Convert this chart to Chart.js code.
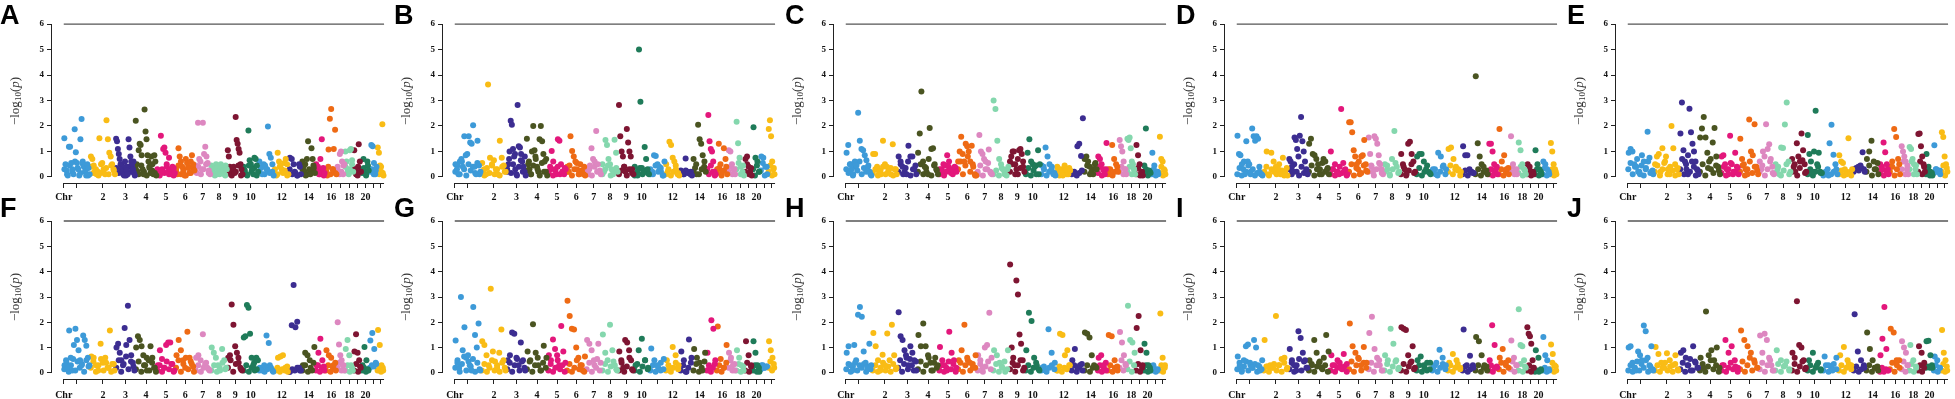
<!DOCTYPE html>
<html>
<head>
<meta charset="utf-8">
<script src="https://cdn.jsdelivr.net/npm/chart.js@4/dist/chart.umd.min.js"></script>
<style>
  body { margin: 0; background: #fff; width: 1955px; height: 399px; overflow: hidden; position: relative; }
  .panel { position: absolute; width: 391px; height: 200px; }
  .panel canvas { position: absolute; left: 0; top: 0; }
  .tag { position: absolute; font: bold 27px "Liberation Sans", Arial, sans-serif; line-height: 27px; color: #000; }
  .ytitle {
    position: absolute; left: 15px; white-space: nowrap;
    font: 13px "Liberation Serif", "Times New Roman", serif; color: #333;
    transform: translate(-50%, -50%) rotate(-90deg);
  }
  .ytitle sub { font-size: 9px; vertical-align: -2px; }
</style>
</head>
<body>
<script>
// chromosome layout (relative lengths) and colours, cycling every 10
const chrLengths = [27, 26, 20, 22, 19, 20, 16, 17, 16, 16, 16, 15, 13, 14, 10, 12, 8, 9, 8, 8, 8, 7];
const chrColors = ['#3d9ad8', '#f9bc15', '#3c2d91', '#4a5421', '#e3177b', '#ee6a14', '#dd87c0', '#84d7ad', '#7e1532', '#1f7b59'];
const chrTickLabels = ['Chr', '', '2', '3', '4', '5', '6', '7', '8', '9', '10', '', '12', '', '14', '', '16', '', '18', '', '20', '', ''];
const yTicks = [0, 1, 2, 3, 4, 5, 6];
const threshold = 6;
const panelLetters = ['A', 'B', 'C', 'D', 'E', 'F', 'G', 'H', 'I', 'J'];

// -log10(p) per chromosome, in order along each chromosome (upper markers)
const panelA = [
  [1.52, 0.5, 0.25, 0.05, 1.18, 1.18, 0.55, 0.3, 0.1, 1.87, 0.97, 0.55, 0.3, 0.05, 1.48, 2.27, 0.6, 0.4, 0.2, 0.05, 0.5, 0.35, 0.1],
  [0.8, 0.7, 0.45, 0.25, 0.1, 0.2, 1.52, 0.15, 0.55, 0.3, 0.1, 2.22, 1.48, 0.95, 0.8, 0.5, 0.3, 0.1],
  [1.5, 1.4, 1.1, 0.9, 0.7, 0.5, 0.3, 0.2, 0.1, 0.05, 0.6, 0.4, 0.25, 0.1, 1.48, 1.15, 0.8, 0.6, 0.45, 0.3, 0.15, 0.05],
  [2.2, 0.5, 0.2, 1.05, 1.3, 1.25, 0.85, 0.3, 0.1, 2.65, 1.78, 1.48, 0.85, 0.6, 0.35, 0.15, 0.8, 0.5, 0.1, 0.85, 0.6, 0.05],
  [0.3, 0.2, 0.1, 1.62, 0.25, 1.1, 1.15, 0.95, 0.5, 0.2, 0.75, 0.3, 0.1, 0.4, 0.35, 0.15],
  [0.3, 0.1, 1.12, 0.8, 0.6, 0.4, 0.2, 0.05, 0.7, 0.55, 0.35, 0.15, 0.6, 0.85, 0.5, 0.25],
  [0.45, 0.15, 2.13, 0.7, 0.6, 0.3, 2.13, 0.9, 1.18, 0.8, 0.55, 0.25, 0.1],
  [0.45, 0.3, 0.15, 0.05, 0.5, 0.35, 0.2, 0.1, 0.5, 0.4, 0.25, 0.1, 0.45, 0.3],
  [1.05, 0.8, 0.4, 0.2, 0.05, 0.3, 0.4, 0.15, 2.35, 1.45, 1.3, 1.1, 0.95, 0.5, 0.3, 0.1],
  [0.4, 0.25, 0.1, 0.05, 1.82, 0.65, 0.5, 0.3, 0.1, 0.75, 0.7, 0.45, 0.2],
  [0.6, 0.35, 0.1, 0.5, 0.45, 0.3, 1.98, 0.9, 0.75, 0.2, 0.05],
  [0.1, 0.05, 0.95, 0.6, 0.45, 0.3, 0.15, 0.55, 0.7, 0.5, 0.1],
  [0.75, 0.7, 0.5, 0.15, 0.05, 0.5, 0.1],
  [0.6, 0.4, 0.2, 0.05, 0.7, 1.4, 0.3, 0.1, 1.12, 0.7, 0.35, 0.15],
  [0.5, 0.3, 0.1, 0.7, 1.48, 0.35, 0.15],
  [0.25, 0.05, 1.08, 2.28, 2.67, 0.3, 1.1, 1.85, 0.1],
  [0.4, 0.2, 0.9, 1.0, 0.6, 0.1, 0.5],
  [1.0, 0.6, 0.3, 0.1, 1.05, 1.1, 0.65, 0.2],
  [1.05, 0.3, 0.1, 0.05, 1.28, 0.6, 0.2],
  [0.3, 0.7, 0.2, 0.05, 0.6, 0.25],
  [0.3, 1.25, 1.2, 0.55, 0.1, 0.4],
  [1.15, 0.95, 0.45, 0.2, 2.07, 0.05]
];
const panelB = [
  [0.5, 0.3, 0.1, 0.6, 0.7, 0.4, 1.6, 0.85, 0.9, 1.6, 1.35, 1.3, 2.03, 0.4, 0.1, 1.42, 0.45, 0.2],
  [0.55, 0.3, 0.1, 3.63, 0.75, 0.5, 0.65, 0.3, 0.1, 1.42, 0.75, 0.45, 0.2],
  [0.2, 0.5, 1.0, 2.2, 2.05, 1.1, 0.8, 0.3, 0.1, 2.82, 1.2, 1.15, 0.9, 0.6, 0.4, 0.2, 0.05],
  [1.5, 0.5, 0.3, 0.1, 1.0, 2.0, 1.05, 0.7, 0.4, 0.2, 1.48, 2.0, 1.4, 0.9, 0.6, 0.2, 0.05],
  [0.2, 0.4, 1.02, 0.6, 0.3, 0.1, 1.48, 1.42, 0.5, 0.2, 0.1, 0.3],
  [0.4, 0.2, 1.6, 1.02, 0.8, 0.6, 0.3, 0.1, 0.5, 0.2, 0.1, 0.05],
  [0.3, 0.1, 0.45, 1.12, 0.7, 0.6, 1.8, 0.5, 0.2, 0.1],
  [0.5, 0.2, 1.45, 1.25, 0.7, 0.5, 0.3, 0.1, 1.46, 0.95, 0.2],
  [2.82, 1.6, 1.0, 0.8, 0.4, 0.2, 1.88, 1.35, 1.0, 0.8, 0.3, 0.1],
  [0.4, 0.1, 0.05, 5.0, 2.95, 0.35, 0.2, 1.17, 0.7, 0.3, 0.1],
  [0.1, 0.2, 0.85, 0.82, 0.5, 0.4, 0.2, 0.05, 0.6],
  [0.5, 0.2, 1.38, 1.25, 0.75, 0.6, 0.3, 0.1, 0.05],
  [0.25, 0.2, 0.1, 0.72, 0.2, 0.15, 0.1, 0.05],
  [0.7, 0.35, 0.1, 2.05, 1.48, 1.3, 0.85, 0.4, 0.2],
  [0.3, 2.43, 1.4, 1.1, 1.0, 0.6, 0.2, 0.1],
  [0.3, 1.3, 0.5, 0.2, 1.12, 0.7, 0.1],
  [1.05, 1.0, 0.5, 0.3, 0.1],
  [2.17, 1.32, 0.75, 0.4, 0.2, 0.05],
  [0.7, 0.8, 0.4, 0.2, 0.05],
  [1.95, 0.75, 0.6, 0.2],
  [0.8, 0.75, 0.4, 0.1],
  [1.88, 2.22, 1.6, 0.6, 0.3, 0.1]
];
const panelC = [
  [0.95, 1.25, 0.5, 0.3, 0.1, 0.6, 0.45, 2.52, 1.42, 1.1, 1.05, 0.85, 0.65, 0.4, 0.2, 0.05],
  [0.9, 0.9, 0.4, 0.2, 0.1, 1.42, 0.5, 0.4, 0.3, 0.1, 1.28, 0.3, 0.1],
  [0.8, 0.6, 0.4, 0.2, 0.1, 1.22, 0.8, 0.8, 0.3, 0.1],
  [0.95, 1.7, 3.35, 0.6, 0.4, 0.2, 0.1, 1.92, 1.1, 1.12, 0.5, 0.3, 0.1],
  [0.3, 0.2, 0.5, 0.45, 0.85, 0.6, 0.3, 0.1, 0.4, 0.2],
  [0.6, 1.0, 1.58, 0.9, 0.6, 1.3, 1.2, 1.0, 0.6, 1.22, 0.4, 0.1, 0.05],
  [0.1, 1.65, 1.0, 0.9, 0.7, 0.6, 0.3, 1.08, 0.2, 0.1],
  [3.0, 2.67, 1.42, 0.7, 0.5, 0.3, 0.1, 0.05, 0.4],
  [0.6, 0.8, 1.0, 1.0, 0.5, 0.3, 0.1, 1.05, 1.1, 0.9, 0.4, 0.2],
  [0.1, 0.95, 1.48, 0.6, 0.5, 0.4, 0.1, 1.05, 0.5],
  [0.45, 0.4, 1.15, 0.8, 0.5, 0.3, 0.1, 0.05],
  [0.4, 0.3, 0.15, 0.05, 0.45, 0.3, 0.1, 0.25],
  [0.2, 0.15, 0.1, 1.2, 1.3, 0.82, 2.3],
  [0.7, 0.8, 0.6, 0.4, 0.2, 0.1, 0.5, 0.3],
  [0.8, 0.7, 0.5, 0.3, 0.1, 1.33],
  [0.3, 0.1, 1.25, 0.7, 0.5, 0.2],
  [1.45, 1.2, 1.0, 0.6, 0.3, 0.1],
  [1.5, 1.45, 1.55, 1.12, 0.6, 0.5, 0.3, 0.1],
  [1.25, 0.85, 0.5, 0.2, 0.05],
  [0.45, 1.9, 0.2, 0.25, 0.15],
  [0.95, 0.45, 0.2, 0.1],
  [1.58, 0.7, 0.6, 0.3, 0.1]
];
const panelD = [
  [1.62, 0.9, 0.85, 0.5, 0.3, 0.1, 1.4, 0.6, 0.5, 0.2, 1.9, 1.6, 1.42, 1.6, 1.5, 0.2, 0.1, 0.05],
  [0.2, 1.0, 0.1, 0.95, 0.6, 0.4, 0.3, 0.1, 0.75, 0.2, 0.05],
  [0.7, 0.6, 0.4, 0.2, 1.55, 1.45, 1.1, 0.8, 1.62, 2.35, 1.4, 1.0, 0.6, 0.3, 0.1],
  [1.3, 1.5, 0.9, 0.85, 0.7, 0.5, 0.3, 0.1, 0.7, 0.6, 0.3, 0.1],
  [1.0, 0.3, 0.5, 0.2, 0.1, 2.67, 0.55, 0.3, 0.1],
  [2.15, 2.15, 1.75, 1.05, 0.8, 0.5, 0.3, 0.1, 0.8, 0.85, 1.45, 0.5, 0.2],
  [1.55, 0.9, 0.4, 0.2, 1.6, 1.5, 1.3, 0.85, 0.5, 0.3, 0.1],
  [0.5, 0.3, 0.1, 0.7, 1.8, 0.4, 0.2],
  [0.9, 0.5, 0.3, 0.1, 1.3, 1.38, 0.9, 0.6, 0.2],
  [0.8, 0.9, 0.9, 0.6, 0.3, 0.2, 0.1],
  [0.3, 0.1, 0.95, 0.8, 0.45, 0.3],
  [1.1, 1.15, 0.7, 0.4, 0.3, 0.2],
  [1.2, 0.85, 0.85, 0.3, 0.2, 0.15],
  [3.95, 1.32, 0.8, 0.5, 0.4, 0.2, 0.1],
  [1.3, 1.3, 1.0, 0.5, 0.3, 0.1],
  [1.88, 0.6, 0.85, 0.3, 0.1],
  [1.6, 0.5, 0.2, 0.1],
  [1.35, 1.05, 0.5, 0.3, 0.1],
  [0.5, 0.4, 0.2, 0.1],
  [1.05, 0.5, 0.3, 0.1],
  [0.6, 0.5, 0.3, 0.1],
  [1.33, 1.0, 0.5, 0.3, 0.1]
];
const panelE = [
  [0.95, 1.1, 1.0, 0.5, 0.4, 0.2, 0.1, 0.85, 0.6, 0.3, 1.77, 0.75, 0.2, 0.1],
  [0.5, 0.8, 0.9, 0.2, 1.12, 0.55, 0.8, 0.3, 0.1, 2.0, 1.12, 0.5, 0.3, 0.1],
  [1.7, 2.92, 1.05, 0.6, 0.3, 0.1, 2.68, 1.75, 1.3, 1.0, 0.6, 0.3, 0.1],
  [1.55, 1.9, 2.35, 1.55, 0.95, 0.6, 0.3, 1.35, 1.92, 0.8, 0.4, 0.1],
  [0.8, 0.85, 0.5, 0.3, 0.1, 1.62, 0.5, 0.2, 0.95, 0.4, 0.1],
  [1.5, 0.7, 0.5, 0.3, 0.1, 2.25, 1.0, 0.85, 2.07, 0.4, 0.1],
  [0.6, 0.3, 1.0, 0.8, 2.07, 1.1, 1.28, 0.7, 0.4, 0.1],
  [0.5, 0.3, 0.1, 1.15, 1.13, 2.06, 2.92, 0.6, 0.2],
  [0.7, 0.4, 0.2, 1.32, 0.8, 0.6, 1.7, 1.05, 0.5, 0.2],
  [1.65, 0.9, 0.6, 0.2, 1.0, 2.6, 0.5, 0.95, 0.2, 0.15],
  [0.1, 0.2, 0.3, 1.32, 2.05, 0.87, 0.5, 0.1],
  [0.85, 0.6, 0.55, 0.3, 0.1, 1.52, 0.2, 0.3],
  [0.3, 0.35, 0.4, 0.45, 0.97, 0.2],
  [0.7, 1.0, 1.42, 0.6, 0.3, 0.1],
  [0.5, 0.3, 1.35, 0.97, 0.5, 0.1],
  [0.4, 0.6, 1.88, 1.57, 0.7, 0.1],
  [1.2, 1.0, 0.8, 0.6, 0.3, 0.1],
  [1.17, 1.1, 0.7, 0.5, 0.3, 0.1],
  [1.68, 1.7, 1.2, 0.8, 0.5, 0.2],
  [0.9, 0.4, 0.2, 0.05],
  [1.24, 0.3, 0.2, 0.1],
  [1.75, 1.57, 0.8, 0.5, 0.2]
];
const panelF = [
  [0.3, 0.5, 0.2, 1.68, 0.6, 0.1, 1.1, 1.75, 1.3, 0.9, 0.5, 0.3, 1.48, 1.3, 1.07, 0.6, 0.3],
  [0.65, 0.6, 0.3, 0.1, 1.15, 0.4, 0.6, 0.2, 1.68, 0.35, 0.1],
  [1.0, 1.15, 0.8, 0.5, 0.3, 1.78, 1.1, 2.65, 1.3, 0.7, 0.4, 0.1],
  [1.0, 1.45, 1.3, 1.05, 0.7, 0.3, 0.1, 0.5, 1.05, 0.6, 0.2, 0.05],
  [0.3, 0.9, 0.55, 0.2, 1.1, 1.2, 1.2, 0.35, 0.1],
  [0.7, 1.3, 0.9, 0.5, 0.2, 1.63, 0.6, 0.35, 0.05],
  [0.6, 0.7, 0.5, 1.53, 0.35, 0.2, 0.1],
  [1.0, 0.8, 0.6, 0.3, 0.1, 0.95, 0.5, 0.2],
  [0.6, 0.7, 2.7, 1.9, 1.05, 0.8, 0.4, 0.2, 0.1],
  [1.4, 1.45, 2.68, 2.58, 1.55, 0.6, 0.3, 0.1, 0.6, 0.5],
  [0.2, 0.1, 0.3, 1.48, 1.18, 0.2, 0.05],
  [0.1, 0.6, 0.65, 0.7, 0.2, 0.05],
  [0.05, 1.88, 3.47, 1.8, 2.02, 0.2, 0.1],
  [0.3, 0.8, 0.7, 0.5, 0.1, 1.02],
  [0.3, 0.8, 1.35, 0.5, 0.1],
  [0.9, 0.7, 0.6, 0.3, 0.1],
  [2.0, 1.12, 0.7, 0.5, 0.3, 0.1],
  [0.95, 1.3, 0.7, 0.3, 0.1],
  [0.85, 1.53, 0.8, 0.5, 0.2],
  [0.3, 1.02, 0.5, 0.1],
  [1.28, 1.58, 0.95, 0.35],
  [1.7, 1.1, 0.3, 0.1]
];
const panelG = [
  [1.28, 0.4, 0.2, 3.0, 0.9, 1.8, 0.6, 0.7, 0.3, 0.1, 2.6, 1.5, 1.0, 1.95, 0.1],
  [1.25, 1.1, 0.7, 0.3, 3.33, 0.85, 0.45, 0.2, 0.8, 1.72, 0.5, 0.1],
  [0.5, 0.7, 1.6, 1.55, 0.6, 0.3, 1.2, 0.5, 0.1],
  [0.85, 0.5, 1.92, 0.8, 0.3, 0.1, 1.07, 0.6],
  [0.7, 0.5, 1.32, 0.95, 0.7, 0.3, 1.85, 0.85, 0.4],
  [2.85, 2.25, 1.75, 1.72, 1.0, 0.6, 0.3, 0.1, 0.65],
  [1.3, 1.15, 0.9, 0.5, 0.2, 1.15, 0.4],
  [1.52, 0.8, 0.5, 1.9, 0.9, 0.3, 0.1],
  [0.85, 0.5, 0.2, 1.3, 1.2, 0.9, 0.5, 0.1],
  [0.3, 0.9, 1.35, 0.5, 0.2],
  [0.97, 0.5, 0.3, 0.1, 0.55],
  [0.5, 0.2, 1.02, 0.7, 0.3],
  [0.85, 0.5, 0.05, 1.32, 0.6],
  [0.95, 0.6, 0.4, 0.1, 0.8],
  [0.8, 0.2, 2.08, 1.75, 0.5],
  [1.83, 0.55, 0.2, 1.1],
  [0.8, 0.6, 0.3, 0.1],
  [0.9, 0.6, 0.3, 0.1],
  [1.25, 0.7, 0.3],
  [1.25, 0.8, 0.3, 0.05],
  [0.3, 0.2, 0.25],
  [1.25, 0.9, 0.6, 0.2]
];
const panelH = [
  [0.8, 1.05, 0.3, 0.1, 1.1, 0.5, 2.3, 2.6, 2.22, 0.85, 0.4, 0.2, 1.15, 0.3],
  [1.58, 1.05, 0.5, 0.1, 0.72, 0.3, 1.56, 0.5, 1.9, 0.7, 0.2],
  [2.4, 1.45, 1.3, 0.9, 0.6, 0.3, 1.05, 0.8, 0.5, 0.1],
  [1.5, 1.05, 1.95, 1.05, 0.7, 0.4, 0.1, 0.6, 0.3],
  [1.02, 0.5, 0.3, 0.1, 1.63, 0.8, 0.5, 0.2],
  [0.5, 0.9, 1.9, 0.6, 0.4, 0.2, 0.7],
  [0.7, 0.5, 0.2, 1.0, 1.1, 2.38, 0.6],
  [0.9, 0.7, 0.4, 0.2, 0.05, 0.9],
  [4.28, 1.0, 0.6, 0.3, 3.65, 3.1, 1.52, 1.15, 0.5, 0.2],
  [0.9, 2.38, 2.05, 0.6, 0.3, 0.1],
  [0.2, 0.1, 1.73, 0.8, 0.4],
  [0.1, 1.55, 1.5, 0.7, 0.9, 0.3],
  [0.5, 0.95, 0.2, 0.3, 0.1],
  [1.6, 1.55, 1.4, 0.7, 0.3, 0.2],
  [0.6, 0.7, 0.3, 0.1],
  [1.5, 1.45, 0.5, 0.1],
  [1.62, 1.2, 0.7, 0.3],
  [2.65, 1.3, 1.2, 0.8],
  [1.78, 2.25, 0.9, 0.3],
  [1.15, 0.8, 0.3, 0.1],
  [0.3, 0.1],
  [2.35, 0.6, 0.3]
];
const panelI = [
  [0.65, 0.3, 0.1, 0.5, 1.05, 1.12, 0.4, 0.2, 1.3, 1.0, 0.3, 0.1, 0.5],
  [1.3, 0.25, 0.3, 0.2, 2.25, 0.3, 0.55, 0.6, 0.2],
  [0.95, 0.5, 0.3, 0.1, 1.65, 1.38, 0.8, 0.5, 0.2],
  [0.5, 0.3, 1.3, 0.8, 0.4, 0.2, 0.6, 1.5, 0.85],
  [0.7, 0.3, 0.5, 0.2, 0.75, 0.35],
  [1.95, 1.05, 0.8, 0.6, 0.3, 1.02, 0.4],
  [1.58, 2.22, 0.95, 0.6, 0.3, 0.1],
  [0.7, 0.5, 1.75, 1.15, 0.5, 0.2],
  [1.8, 1.75, 1.7, 0.7, 0.4, 1.05, 0.2],
  [0.5, 0.65, 0.3, 0.1, 0.4],
  [0.2, 0.4, 0.92, 0.6, 0.3],
  [0.4, 0.75, 0.5, 0.2],
  [1.72, 0.3, 0.68, 0.2],
  [1.42, 1.25, 0.7, 0.3, 0.1],
  [0.5, 1.88, 1.1, 0.2],
  [0.6, 0.95, 0.4, 0.2],
  [1.28, 0.6, 0.3],
  [2.52, 1.1, 1.05, 0.5, 0.2],
  [1.8, 1.55, 1.45, 1.15, 0.5, 0.2],
  [0.9, 0.6, 0.1],
  [1.42, 0.7, 0.5, 0.1],
  [1.12, 0.75, 0.3, 0.1]
];
const panelJ = [
  [1.0, 1.05, 0.4, 0.2, 0.1, 0.85, 0.7, 0.5, 1.87, 1.65, 0.6, 0.3, 1.05, 0.1],
  [1.02, 0.75, 0.4, 0.2, 0.78, 0.5, 0.3, 0.7, 0.1],
  [0.8, 0.9, 0.6, 0.3, 0.1, 1.05, 0.4, 0.2],
  [0.6, 0.2, 2.43, 0.7, 0.9, 0.5, 1.0, 0.2],
  [0.3, 1.3, 0.8, 1.05, 0.5, 0.2],
  [1.68, 1.3, 1.05, 0.8, 0.5, 0.2],
  [1.48, 0.8, 1.55, 1.3, 0.6, 0.3, 0.1],
  [0.9, 0.5, 0.3, 0.1],
  [0.8, 0.6, 2.83, 1.1, 1.0, 0.5, 0.2],
  [0.5, 0.8, 0.3, 0.1],
  [0.65, 0.3, 0.1, 0.6],
  [0.7, 1.02, 0.5, 0.3],
  [2.32, 0.85, 0.5, 0.2],
  [1.6, 0.95, 0.5, 0.2, 0.1],
  [0.7, 1.35, 2.6, 0.95, 0.1],
  [1.75, 1.6, 0.5, 0.2],
  [1.25, 1.0, 0.8, 0.3],
  [1.1, 0.5, 0.2],
  [1.05, 0.8, 0.4],
  [1.25, 1.27, 0.7, 0.2],
  [0.65, 0.5, 0.2],
  [1.7, 0.8, 0.5, 0.1]
];

// dense low-level band of markers per chromosome (-log10 p near zero)
const baseA = [
  [0.3, 0.1, 0.45, 0.2, 0.6, 0.35, 0.15, 0.5, 0.25, 0.05],
  [0.4, 0.15, 0.3, 0.05, 0.5, 0.2, 0.35, 0.1, 0.45, 0.25],
  [0.35, 0.15, 0.5, 0.25, 0.05, 0.4, 0.2, 0.6],
  [0.3, 0.1, 0.45, 0.2, 0.05, 0.4, 0.25, 0.15],
  [0.2, 0.05, 0.3, 0.15, 0.4, 0.1, 0.25, 0.05],
  [0.2, 0.45, 0.1, 0.3, 0.05, 0.4, 0.15, 0.35],
  [0.2, 0.4, 0.1, 0.3, 0.5, 0.15],
  [0.2, 0.35, 0.1, 0.45, 0.25, 0.05],
  [0.25, 0.1, 0.35, 0.2, 0.45, 0.05],
  [0.3, 0.1, 0.45, 0.2, 0.35, 0.05],
  [0.2, 0.4, 0.1, 0.3, 0.15, 0.5],
  [0.3, 0.1, 0.4, 0.2, 0.25, 0.05],
  [0.3, 0.1, 0.2, 0.05, 0.4],
  [0.3, 0.5, 0.1, 0.25, 0.45],
  [0.2, 0.4, 0.1, 0.3, 0.05],
  [0.2, 0.4, 0.1, 0.3, 0.15],
  [0.3, 0.1, 0.2, 0.45],
  [0.4, 0.15, 0.3, 0.5],
  [0.3, 0.1, 0.4, 0.2],
  [0.15, 0.35, 0.1, 0.45],
  [0.2, 0.3, 0.1, 0.25],
  [0.3, 0.1, 0.4, 0.15]
];
const baseB = [
  [0.2, 0.45, 0.1, 0.6, 0.3, 0.05, 0.5, 0.25, 0.4, 0.15, 0.55, 0.1],
  [0.2, 0.05, 0.35, 0.15, 0.45, 0.1, 0.3, 0.05, 0.4, 0.2],
  [0.3, 0.7, 0.15, 0.5, 0.9, 0.05, 0.4, 0.65, 0.2, 0.8],
  [0.25, 0.6, 0.1, 0.45, 0.8, 0.3, 0.05, 0.55, 0.2, 0.7],
  [0.15, 0.3, 0.05, 0.25, 0.4, 0.1, 0.2, 0.35],
  [0.2, 0.45, 0.05, 0.3, 0.55, 0.1, 0.25, 0.4],
  [0.15, 0.3, 0.05, 0.4, 0.2, 0.25],
  [0.1, 0.3, 0.45, 0.05, 0.2, 0.35],
  [0.1, 0.25, 0.4, 0.05, 0.3, 0.15],
  [0.05, 0.2, 0.35, 0.1, 0.25, 0.15],
  [0.3, 0.1, 0.45, 0.2, 0.35, 0.05],
  [0.1, 0.3, 0.05, 0.2, 0.45, 0.15],
  [0.2, 0.1, 0.25, 0.15, 0.2],
  [0.2, 0.5, 0.1, 0.3, 0.6],
  [0.3, 0.1, 0.45, 0.2, 0.05],
  [0.15, 0.35, 0.05, 0.25, 0.4],
  [0.2, 0.4, 0.1, 0.3],
  [0.3, 0.55, 0.1, 0.45],
  [0.2, 0.5, 0.1, 0.35],
  [0.3, 0.05, 0.45, 0.2],
  [0.25, 0.55, 0.05, 0.4],
  [0.2, 0.45, 0.05, 0.35]
];
const baseC = [
  [0.3, 0.15, 0.5, 0.05, 0.4, 0.25, 0.6, 0.1, 0.35, 0.2, 0.45, 0.1],
  [0.15, 0.3, 0.05, 0.25, 0.4, 0.1, 0.2, 0.35, 0.05, 0.3],
  [0.2, 0.5, 0.1, 0.35, 0.6, 0.05, 0.3, 0.45],
  [0.2, 0.5, 0.1, 0.35, 0.7, 0.05, 0.45, 0.25],
  [0.1, 0.3, 0.05, 0.2, 0.4, 0.15, 0.25, 0.35],
  [0.3, 0.6, 0.1, 0.45, 0.8, 0.2, 0.5, 0.05],
  [0.2, 0.45, 0.05, 0.3, 0.55, 0.15],
  [0.1, 0.25, 0.05, 0.35, 0.15, 0.3],
  [0.2, 0.5, 0.1, 0.7, 0.35, 0.6],
  [0.15, 0.35, 0.05, 0.25, 0.45, 0.1],
  [0.1, 0.3, 0.05, 0.2, 0.4, 0.15],
  [0.2, 0.05, 0.3, 0.15, 0.1, 0.35],
  [0.1, 0.2, 0.05, 0.15, 0.25],
  [0.2, 0.45, 0.1, 0.3, 0.55],
  [0.15, 0.4, 0.05, 0.25, 0.3],
  [0.1, 0.3, 0.05, 0.2, 0.4],
  [0.2, 0.4, 0.1, 0.3],
  [0.2, 0.4, 0.1, 0.3],
  [0.1, 0.35, 0.05, 0.2],
  [0.1, 0.3, 0.05, 0.2],
  [0.1, 0.3, 0.05, 0.2],
  [0.15, 0.4, 0.05, 0.25]
];
const baseD = [
  [0.1, 0.35, 0.05, 0.6, 0.2, 0.45, 0.1, 0.3, 0.05, 0.15, 0.4, 0.1],
  [0.15, 0.4, 0.05, 0.3, 0.2, 0.1, 0.5, 0.25, 0.05, 0.35],
  [0.3, 0.1, 0.5, 0.2, 0.05, 0.4, 0.15, 0.25],
  [0.2, 0.45, 0.05, 0.3, 0.1, 0.55, 0.2, 0.35],
  [0.1, 0.3, 0.05, 0.2, 0.4, 0.15, 0.25, 0.05],
  [0.2, 0.5, 0.05, 0.35, 0.6, 0.15, 0.45, 0.25],
  [0.2, 0.45, 0.05, 0.3, 0.55, 0.15],
  [0.2, 0.45, 0.05, 0.3, 0.55, 0.15],
  [0.1, 0.4, 0.05, 0.25, 0.5, 0.15],
  [0.1, 0.35, 0.05, 0.2, 0.45, 0.15],
  [0.15, 0.3, 0.05, 0.2, 0.4, 0.1],
  [0.2, 0.45, 0.1, 0.3, 0.25, 0.05],
  [0.1, 0.25, 0.05, 0.2, 0.15],
  [0.1, 0.3, 0.05, 0.2, 0.25],
  [0.1, 0.3, 0.05, 0.2, 0.4],
  [0.1, 0.3, 0.05, 0.2, 0.35],
  [0.2, 0.4, 0.1, 0.3],
  [0.15, 0.4, 0.05, 0.25],
  [0.1, 0.3, 0.05, 0.2],
  [0.1, 0.3, 0.05, 0.2],
  [0.1, 0.35, 0.05, 0.2],
  [0.1, 0.3, 0.05, 0.2]
];
const baseE = [
  [0.3, 0.55, 0.1, 0.4, 0.7, 0.2, 0.45, 0.05, 0.35, 0.6, 0.15, 0.25],
  [0.2, 0.45, 0.05, 0.3, 0.6, 0.1, 0.4, 0.25, 0.05, 0.35],
  [0.3, 0.7, 0.1, 0.5, 0.85, 0.2, 0.6, 0.4, 0.05, 0.25],
  [0.2, 0.5, 0.05, 0.35, 0.7, 0.15, 0.45, 0.25],
  [0.15, 0.4, 0.05, 0.3, 0.55, 0.1, 0.2, 0.35],
  [0.2, 0.45, 0.05, 0.3, 0.6, 0.15, 0.4, 0.25],
  [0.2, 0.45, 0.05, 0.3, 0.6, 0.15],
  [0.15, 0.4, 0.05, 0.25, 0.5, 0.1],
  [0.2, 0.5, 0.05, 0.35, 0.65, 0.15],
  [0.1, 0.3, 0.05, 0.2, 0.4, 0.15],
  [0.05, 0.15, 0.05, 0.1, 0.2, 0.3],
  [0.1, 0.25, 0.05, 0.2, 0.15, 0.05],
  [0.2, 0.3, 0.25, 0.35, 0.3],
  [0.2, 0.45, 0.05, 0.3, 0.55],
  [0.15, 0.4, 0.05, 0.25, 0.3],
  [0.2, 0.4, 0.05, 0.3, 0.5],
  [0.3, 0.6, 0.1, 0.45],
  [0.3, 0.6, 0.1, 0.45],
  [0.2, 0.6, 0.1, 0.4],
  [0.1, 0.25, 0.05, 0.15],
  [0.15, 0.3, 0.2, 0.25],
  [0.2, 0.45, 0.05, 0.35]
];
const baseF = [
  [0.15, 0.4, 0.05, 0.3, 0.55, 0.1, 0.45, 0.2, 0.35, 0.05, 0.5, 0.25],
  [0.2, 0.45, 0.05, 0.3, 0.55, 0.1, 0.4, 0.2, 0.05, 0.35],
  [0.2, 0.5, 0.05, 0.35, 0.65, 0.15, 0.45, 0.25],
  [0.15, 0.45, 0.05, 0.3, 0.6, 0.1, 0.4, 0.2],
  [0.1, 0.3, 0.05, 0.2, 0.45, 0.15, 0.35, 0.05],
  [0.2, 0.5, 0.05, 0.35, 0.6, 0.15, 0.45, 0.25],
  [0.1, 0.3, 0.05, 0.2, 0.4, 0.15],
  [0.1, 0.3, 0.05, 0.2, 0.4, 0.15],
  [0.2, 0.5, 0.05, 0.35, 0.6, 0.15],
  [0.1, 0.3, 0.05, 0.2, 0.4, 0.15],
  [0.1, 0.2, 0.05, 0.15, 0.3, 0.1],
  [0.1, 0.2, 0.05, 0.15, 0.1, 0.25],
  [0.05, 0.15, 0.1, 0.2, 0.1],
  [0.1, 0.3, 0.05, 0.2, 0.4],
  [0.1, 0.3, 0.05, 0.2, 0.25],
  [0.1, 0.3, 0.05, 0.2, 0.4],
  [0.2, 0.4, 0.1, 0.3],
  [0.1, 0.3, 0.05, 0.2],
  [0.1, 0.35, 0.05, 0.25],
  [0.1, 0.2, 0.05, 0.15],
  [0.2, 0.3, 0.25, 0.4],
  [0.1, 0.25, 0.05, 0.2]
];
const baseG = [
  [0.2, 0.5, 0.05, 0.35, 0.65, 0.1, 0.45, 0.25, 0.55, 0.05, 0.4, 0.15],
  [0.1, 0.35, 0.05, 0.2, 0.5, 0.1, 0.3, 0.05, 0.4, 0.2],
  [0.15, 0.4, 0.05, 0.3, 0.55, 0.1, 0.45, 0.2],
  [0.15, 0.45, 0.05, 0.3, 0.6, 0.1, 0.4, 0.2],
  [0.1, 0.35, 0.05, 0.2, 0.5, 0.15, 0.3, 0.05],
  [0.1, 0.35, 0.05, 0.2, 0.5, 0.15, 0.3, 0.05],
  [0.15, 0.4, 0.05, 0.3, 0.55, 0.1],
  [0.1, 0.35, 0.05, 0.25, 0.45, 0.15],
  [0.1, 0.4, 0.05, 0.25, 0.6, 0.15],
  [0.1, 0.35, 0.05, 0.25, 0.5, 0.15],
  [0.1, 0.3, 0.05, 0.2, 0.4, 0.15],
  [0.1, 0.3, 0.05, 0.2, 0.4, 0.15],
  [0.1, 0.3, 0.05, 0.2, 0.4],
  [0.1, 0.35, 0.05, 0.2, 0.45],
  [0.1, 0.3, 0.05, 0.2, 0.35],
  [0.1, 0.3, 0.05, 0.2, 0.4],
  [0.2, 0.5, 0.1, 0.35],
  [0.1, 0.35, 0.05, 0.25],
  [0.1, 0.4, 0.05, 0.25],
  [0.1, 0.3, 0.05, 0.2],
  [0.15, 0.3, 0.2, 0.25],
  [0.2, 0.45, 0.1, 0.35]
];
const baseH = [
  [0.15, 0.35, 0.05, 0.25, 0.4, 0.1, 0.3, 0.2, 0.35, 0.05, 0.25, 0.15],
  [0.1, 0.3, 0.05, 0.2, 0.4, 0.1, 0.25, 0.05, 0.35, 0.15],
  [0.2, 0.5, 0.05, 0.35, 0.7, 0.15, 0.55, 0.3, 0.1, 0.45],
  [0.15, 0.45, 0.05, 0.3, 0.6, 0.1, 0.4, 0.2],
  [0.1, 0.3, 0.05, 0.2, 0.45, 0.15, 0.35, 0.05],
  [0.15, 0.4, 0.05, 0.3, 0.5, 0.1, 0.35, 0.2],
  [0.1, 0.35, 0.05, 0.25, 0.45, 0.15],
  [0.1, 0.35, 0.05, 0.25, 0.45, 0.15],
  [0.15, 0.4, 0.05, 0.3, 0.5, 0.1],
  [0.1, 0.3, 0.05, 0.2, 0.4, 0.15],
  [0.1, 0.25, 0.05, 0.2, 0.3, 0.15],
  [0.1, 0.25, 0.05, 0.2, 0.15, 0.3],
  [0.1, 0.3, 0.05, 0.2, 0.35],
  [0.1, 0.3, 0.05, 0.2, 0.25],
  [0.1, 0.3, 0.05, 0.2, 0.4],
  [0.1, 0.3, 0.05, 0.2, 0.25],
  [0.2, 0.5, 0.1, 0.35],
  [0.15, 0.45, 0.05, 0.3],
  [0.1, 0.35, 0.05, 0.2],
  [0.1, 0.3, 0.05, 0.2],
  [0.1, 0.2, 0.05, 0.15],
  [0.1, 0.3, 0.05, 0.2]
];
const baseI = [
  [0.15, 0.4, 0.05, 0.25, 0.45, 0.1, 0.3, 0.2, 0.35, 0.05, 0.25, 0.15],
  [0.1, 0.25, 0.05, 0.2, 0.35, 0.1, 0.3, 0.05, 0.4, 0.15],
  [0.15, 0.4, 0.05, 0.3, 0.55, 0.1, 0.45, 0.2],
  [0.1, 0.35, 0.05, 0.25, 0.45, 0.15, 0.3, 0.05],
  [0.1, 0.3, 0.05, 0.2, 0.4, 0.15, 0.25, 0.05],
  [0.15, 0.45, 0.05, 0.3, 0.55, 0.1, 0.4, 0.2],
  [0.15, 0.4, 0.05, 0.3, 0.5, 0.1],
  [0.1, 0.35, 0.05, 0.25, 0.45, 0.15],
  [0.1, 0.35, 0.05, 0.25, 0.45, 0.15],
  [0.1, 0.3, 0.05, 0.2, 0.4, 0.15],
  [0.1, 0.3, 0.05, 0.2, 0.35, 0.15],
  [0.1, 0.3, 0.05, 0.2, 0.35, 0.15],
  [0.1, 0.25, 0.05, 0.15, 0.3],
  [0.1, 0.3, 0.05, 0.2, 0.25],
  [0.1, 0.3, 0.05, 0.2, 0.25],
  [0.15, 0.4, 0.05, 0.3, 0.5],
  [0.15, 0.45, 0.05, 0.3],
  [0.1, 0.35, 0.05, 0.25],
  [0.1, 0.3, 0.05, 0.2],
  [0.05, 0.1, 0.05, 0.15],
  [0.1, 0.2, 0.05, 0.15],
  [0.15, 0.4, 0.05, 0.25]
];
const baseJ = [
  [0.1, 0.3, 0.05, 0.2, 0.45, 0.1, 0.35, 0.2, 0.5, 0.05, 0.25, 0.15],
  [0.1, 0.3, 0.05, 0.2, 0.4, 0.1, 0.25, 0.05, 0.35, 0.15],
  [0.15, 0.4, 0.05, 0.3, 0.55, 0.1, 0.45, 0.2],
  [0.1, 0.35, 0.05, 0.25, 0.5, 0.15, 0.3, 0.05],
  [0.1, 0.3, 0.05, 0.2, 0.4, 0.15, 0.25, 0.05],
  [0.15, 0.45, 0.05, 0.3, 0.6, 0.1, 0.4, 0.2],
  [0.15, 0.4, 0.05, 0.3, 0.5, 0.1],
  [0.1, 0.35, 0.05, 0.25, 0.45, 0.15],
  [0.1, 0.35, 0.05, 0.25, 0.45, 0.15],
  [0.1, 0.3, 0.05, 0.2, 0.4, 0.15],
  [0.1, 0.3, 0.05, 0.2, 0.35, 0.15],
  [0.1, 0.3, 0.05, 0.2, 0.35, 0.15],
  [0.1, 0.25, 0.05, 0.15, 0.3],
  [0.1, 0.3, 0.05, 0.2, 0.25],
  [0.05, 0.2, 0.05, 0.15, 0.1],
  [0.15, 0.4, 0.05, 0.3, 0.5],
  [0.15, 0.45, 0.05, 0.3],
  [0.1, 0.35, 0.05, 0.25],
  [0.1, 0.3, 0.05, 0.2],
  [0.2, 0.25, 0.2, 0.3],
  [0.1, 0.3, 0.05, 0.2],
  [0.1, 0.35, 0.05, 0.25]
];

const allPanels = [panelA, panelB, panelC, panelD, panelE, panelF, panelG, panelH, panelI, panelJ];
const allBases = [baseA, baseB, baseC, baseD, baseE, baseF, baseG, baseH, baseI, baseJ];

// chromosome starts and tick positions (first tick = axis start labelled "Chr")
const chrStarts = [];
chrLengths.reduce((acc, len) => { chrStarts.push(acc); return acc + len; }, 0);
const genomeEnd = chrLengths.reduce((a, b) => a + b, 0);
const chrTicks = [0, ...chrLengths.map((len, i) => chrStarts[i] + len / 2)];

// spread a chromosome's markers along its span
const placeOnChr = (vals, i, shift) =>
  vals.map((v, j) => ({ x: chrStarts[i] + (j + shift) * chrLengths[i] / vals.length, y: v }));

const axisLines = {
  id: 'axisLines',
  afterDraw(chart) {
    const { ctx, chartArea, scales: { x, y } } = chart;
    ctx.save();
    ctx.strokeStyle = '#222';
    ctx.lineWidth = 1;
    ctx.beginPath();
    const lx = Math.round(chartArea.left) - 0.5;
    ctx.moveTo(lx, y.getPixelForValue(0));
    ctx.lineTo(lx, y.getPixelForValue(yTicks[yTicks.length - 1]));
    const by = Math.round(chartArea.bottom) + 0.5;
    ctx.moveTo(x.getPixelForValue(0), by);
    ctx.lineTo(x.getPixelForValue(genomeEnd), by);
    ctx.stroke();
    ctx.restore();
  }
};

const buildPanel = (idx) => {
  const row = Math.floor(idx / 5);
  const col = idx % 5;
  const panelTop = row === 0 ? 0 : 199;
  const div = document.createElement('div');
  div.className = 'panel';
  div.style.left = (col * 391) + 'px';
  div.style.top = panelTop + 'px';
  const canvas = document.createElement('canvas');
  canvas.width = 391;
  canvas.height = 200;
  div.appendChild(canvas);
  const yt = document.createElement('div');
  yt.className = 'ytitle';
  yt.innerHTML = '\u2212log<sub>10</sub>(<i>p</i>)';
  yt.style.top = (row === 0 ? 101 : 98) + 'px';
  div.appendChild(yt);
  document.body.appendChild(div);

  const tag = document.createElement('div');
  tag.className = 'tag';
  tag.textContent = panelLetters[idx];
  tag.style.left = (col * 391 + (col === 0 ? 0 : 3)) + 'px';
  tag.style.top = (row === 0 ? 2 : 195) + 'px';
  document.body.appendChild(tag);

  const datasets = allPanels[idx].map((vals, i) => ({
    type: 'scatter',
    data: [...placeOnChr(allBases[idx][i], i, 0.25), ...placeOnChr(vals, i, 0.5)],
    backgroundColor: chrColors[i % chrColors.length],
    borderWidth: 0,
    pointRadius: 3
  }));
  datasets.unshift({
    type: 'line',
    data: [{ x: 0, y: threshold }, { x: genomeEnd, y: threshold }],
    borderColor: '#555',
    borderWidth: 1.4,
    pointRadius: 0
  });

  const serifBold = { family: '"Liberation Serif", "Times New Roman", serif', weight: 'bold' };
  new Chart(canvas.getContext('2d'), {
    data: { datasets },
    plugins: [axisLines],
    options: {
      responsive: false,
      animation: false,
      devicePixelRatio: 1,
      layout: { padding: { top: row === 0 ? 18 : 16, left: 0, right: 0, bottom: 0 } },
      plugins: { legend: { display: false }, tooltip: { enabled: false } },
      scales: {
        x: {
          type: 'linear',
          min: -12,
          max: 330,
          afterBuildTicks: (s) => { s.ticks = chrTicks.map(v => ({ value: v })); },
          afterFit: (s) => { s.height = row === 0 ? 17 : 20; },
          border: { display: false },
          grid: { drawOnChartArea: false, drawTicks: true, tickLength: 5, color: '#222' },
          ticks: {
            autoSkip: false,
            maxRotation: 0,
            padding: row === 0 ? 3 : 5,
            color: '#111',
            font: { ...serifBold, size: 10 },
            callback: (v, i) => chrTickLabels[i]
          }
        },
        y: {
          min: -0.24,
          max: 6.24,
          afterBuildTicks: (s) => { s.ticks = yTicks.map(v => ({ value: v })); },
          afterFit: (s) => { s.width = 52; },
          border: { display: false },
          grid: { drawOnChartArea: false, drawTicks: true, tickLength: 5, color: '#222' },
          ticks: { padding: 3, color: '#111', font: { ...serifBold, size: 9 } }
        }
      }
    }
  });
};

allPanels.forEach((_, i) => buildPanel(i));
</script>
</body>
</html>
